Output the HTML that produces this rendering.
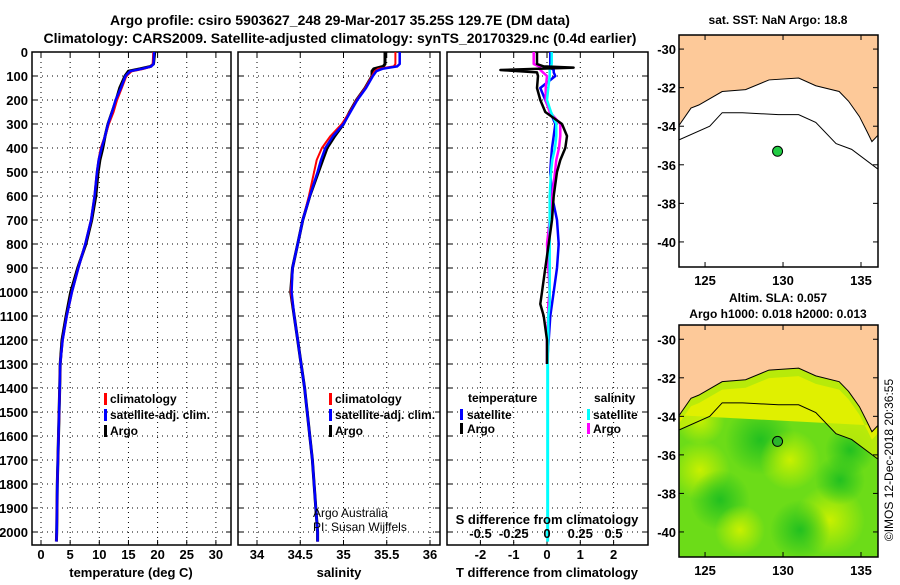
<!DOCTYPE html>
<html><head><meta charset="utf-8"><style>
body{margin:0;background:#fff;}
svg{font-family:"Liberation Sans",sans-serif;font-weight:bold;}
</style></head><body>
<svg id="c" width="900" height="580" xmlns="http://www.w3.org/2000/svg">
<defs>
<clipPath id="cl1"><rect x="32" y="52" width="199" height="493"/></clipPath>
<clipPath id="cl2"><rect x="238" y="52" width="202" height="493"/></clipPath>
<clipPath id="cl3"><rect x="447" y="52" width="201" height="493"/></clipPath>
<clipPath id="m1"><rect x="679" y="35" width="199" height="232"/></clipPath>
<clipPath id="m2"><rect x="679" y="325" width="199" height="232"/></clipPath>
<radialGradient id="gy"><stop offset="0" stop-color="#c8f000"/><stop offset="1" stop-color="#c8f000" stop-opacity="0"/></radialGradient>
<radialGradient id="gd"><stop offset="0" stop-color="#22c020"/><stop offset="1" stop-color="#22c020" stop-opacity="0"/></radialGradient>
</defs>
<text x="340" y="25" text-anchor="middle" font-size="14">Argo profile: csiro 5903627_248 29-Mar-2017 35.25S 129.7E (DM data)</text>
<text x="340" y="43" text-anchor="middle" font-size="14">Climatology: CARS2009. Satellite-adjusted climatology: synTS_20170329.nc (0.4d earlier)</text>
<g id="g"></g>
</svg>
<script>
const depths=[0,50,60,70,80,100,150,200,250,300,350,400,450,500,600,700,800,900,1000,1100,1200,1300,1400,1500,1600,1700,1800,1900,2000,2040];
const tArgo=[19.5,19.3,18.8,17,15,14.4,13.5,12.9,12.2,11.5,11.0,10.6,10.1,9.8,9.4,8.7,7.7,6.3,5.1,4.3,3.6,3.3,3.2,3.1,3.0,2.9,2.8,2.75,2.7,2.65];
const tClim=[19.3,19.2,18.9,17.5,15.5,14.6,13.8,13.0,12.4,11.6,11.0,10.3,9.9,9.6,9.2,8.6,7.6,6.4,5.3,4.4,3.7,3.3,3.2,3.1,3.0,2.9,2.8,2.75,2.7,2.65];
const tSat=[19.4,19.3,18.9,17.3,15.3,14.5,13.7,12.8,12.2,11.5,11.0,10.4,9.9,9.6,9.2,8.6,7.6,6.4,5.3,4.4,3.7,3.3,3.2,3.1,3.0,2.9,2.8,2.75,2.7,2.65];
const sArgo=[35.48,35.48,35.46,35.35,35.33,35.33,35.25,35.15,35.07,35.0,34.9,34.81,34.76,34.71,34.61,34.53,34.47,34.41,34.39,34.43,34.47,34.51,34.55,34.58,34.61,34.64,34.66,34.68,34.7,34.7];
const sClim=[35.6,35.6,35.58,35.4,35.36,35.33,35.25,35.15,35.07,34.98,34.85,34.75,34.69,34.66,34.6,34.53,34.47,34.41,34.39,34.43,34.47,34.51,34.55,34.58,34.61,34.64,34.66,34.68,34.7,34.7];
const sSat=[35.65,35.65,35.62,35.45,35.38,35.34,35.26,35.16,35.08,35.0,34.88,34.79,34.74,34.7,34.61,34.53,34.47,34.41,34.40,34.43,34.47,34.51,34.55,34.58,34.61,34.64,34.66,34.68,34.7,34.7];
const dDepths=[0,50,60,65,75,85,100,150,200,250,300,350,400,450,500,600,700,800,900,1000,1050,1100,1200,1300];
const dtArgo=[-0.3,-0.3,-0.1,0.8,-1.4,-0.3,-0.27,-0.3,-0.2,-0.05,0.45,0.6,0.55,0.4,0.3,0.2,0.15,0.05,-0.05,-0.15,-0.2,-0.1,0,0];
const dtSat=[0.1,0.1,0.1,0.1,0.2,0.2,0.25,-0.2,-0.05,0.1,0.25,0.2,0.15,0.12,0.1,0.15,0.3,0.35,0.3,0.2,0.15,0.1,0.05,0];
const dsArgo=[-0.1,-0.1,-0.06,-0.05,-0.05,-0.03,0,-0.01,-0.01,0.02,0.1,0.1,0.09,0.07,0.06,0.04,0.02,0,0.01,0.02,0.01,0.01,0,0];
const dsSat=[0.035,0.035,0.03,0.03,0.02,0.02,0.02,0.01,0.0,0.03,0.07,0.07,0.06,0.04,0.03,0.02,0.02,0.02,0.02,0.02,0.02,0.01,0.01,0.005];
const depthTicks=[0,100,200,300,400,500,600,700,800,900,1000,1100,1200,1300,1400,1500,1600,1700,1800,1900,2000];
const tTicks=[0,5,10,15,20,25,30];
const sTicks=[34,34.5,35,35.5,36];
const dTicks=[-2,-1,0,1,2];
const dsTickLabels=["-0.5","-0.25","0","0.25","0.5"];
const dsTickVals=[-0.5,-0.25,0,0.25,0.5];
const coastLon=[123.2,123.35,124.1,124.6,126.1,127.6,129.1,131.0,132.1,133.6,134.2,134.9,135.4,135.7,136.05,136.3];
const coastLat=[-33.94,-33.94,-33.06,-32.9,-32.2,-32.1,-31.6,-31.5,-31.9,-32.2,-32.7,-33.5,-34.3,-34.8,-34.5,-34.5];
const contLon=[123.2,123.35,125.3,126.1,127.4,129.7,131.0,132.1,133.4,134.4,136.05,136.3];
const contLat=[-34.7,-34.7,-34.0,-33.3,-33.3,-33.4,-33.4,-33.8,-34.9,-35.2,-36.2,-36.3];
const argoLon=129.65, argoLat=-35.3;

const NS="http://www.w3.org/2000/svg";
const G=document.getElementById('g');
function el(tag,attrs,parent,txt){const e=document.createElementNS(NS,tag);for(const k in attrs)e.setAttribute(k,attrs[k]);if(txt!==undefined)e.textContent=txt;(parent||G).appendChild(e);return e;}
const yD=d=>52+d*0.24;
const xT=v=>41+v*5.83;
const xS=v=>257+(v-34)*86.5;
const xDT=v=>547+v*33.3;
const xDS=v=>547+v*133;

function frame(x0,x1,name){
  const r=el('rect',{x:x0,y:52,width:x1-x0,height:493,fill:'none',stroke:'#000','stroke-width':1.5});
  
  
  depthTicks.forEach(d=>{
    const y=yD(d);
    const l=el('line',{x1:x0,x2:x1,y1:y,y2:y,stroke:'#000','stroke-dasharray':'1,4','stroke-width':1});
    
    
    el('line',{x1:x0,x2:x0+5,y1:y,y2:y,stroke:'#000'});
    el('line',{x1:x1-5,x2:x1,y1:y,y2:y,stroke:'#000'});
  });
}
function vgrid(ticks,fx,x0,x1,labels,ly,name){
  ticks.forEach((v,i)=>{
    const x=fx(v);
    const l=el('line',{x1:x,x2:x,y1:52,y2:545,stroke:'#000','stroke-dasharray':'1,4'});
    
    
    el('line',{x1:x,x2:x,y1:540,y2:545,stroke:'#000'});
    el('line',{x1:x,x2:x,y1:52,y2:57,stroke:'#000'});
    if(labels){const t=el('text',{x:x,y:ly,'text-anchor':'middle','font-size':13},G,labels[i]);
      
      }
  });
}
function line(xs,ys,fx,color,clip,name,w){
  let p='';xs.forEach((v,i)=>{p+=(i?'L':'M')+fx(v).toFixed(1)+','+yD(ys[i]).toFixed(1);});
  const e=el('path',{d:p,fill:'none',stroke:color,'stroke-width':w||3,'clip-path':'url(#'+clip+')','stroke-linejoin':'round'});
  
  
}
// panel 1
frame(32,231,'temperature-panel');
vgrid(tTicks,xT,32,231,tTicks.map(String),559,'temperature-x');
depthTicks.forEach(d=>{const t=el('text',{x:28,y:yD(d)+5,'text-anchor':'end','font-size':13},G,String(d));
  
  });
line(tArgo,depths,xT,'#000','cl1','temp-argo-line');
line(tClim,depths,xT,'#f00','cl1','temp-climatology-line',2.5);
line(tSat,depths,xT,'#00f','cl1','temp-satellite-line',2.5);
let t=el('text',{x:131,y:577,'text-anchor':'middle','font-size':13},G,'temperature (deg C)');

// panel 2
frame(238,440,'salinity-panel');
vgrid(sTicks,xS,238,440,sTicks.map(String),559,'salinity-x');
line(sArgo,depths,xS,'#000','cl2','sal-argo-line');
line(sClim,depths,xS,'#f00','cl2','sal-climatology-line',2);
line(sSat,depths,xS,'#00f','cl2','sal-satellite-line',2.5);
t=el('text',{x:339,y:577,'text-anchor':'middle','font-size':13},G,'salinity');

t=el('text',{x:313,y:517,'font-size':12,'font-weight':'normal'},G,'Argo Australia');

t=el('text',{x:313,y:531,'font-size':12,'font-weight':'normal'},G,'PI: Susan Wijffels');

// legends
function legend(x,items,name){
  items.forEach((it,i)=>{
    const y=398+i*16;
    el('rect',{x:x,y:y-5,width:3,height:12,fill:it[1]});
    const tt=el('text',{x:x+6,y:y+5,'font-size':12},G,it[0]);
    
    
  });
}
legend(104,[['climatology','#f00'],['satellite-adj. clim.','#00f'],['Argo','#000']],'temperature-legend');
legend(329,[['climatology','#f00'],['satellite-adj. clim.','#00f'],['Argo','#000']],'salinity-legend');
// panel 3
frame(447,648,'difference-panel');
vgrid(dTicks,xDT,447,648,dTicks.map(String),559,'tdiff-x');
line(dtSat,dDepths,xDT,'#00f','cl3','tdiff-satellite-line',2.5);
line(dsArgo,dDepths,xDS,'#f0f','cl3','sdiff-argo-line',2.5);
line(dsSat,dDepths,xDS,'#0ff','cl3','sdiff-satellite-line',2.5);
el('line',{x1:xDS(0.005),x2:xDS(0.005),y1:yD(1300),y2:yD(2040),stroke:'#0ff','stroke-width':3,'clip-path':'url(#cl3)'});
line(dtArgo,dDepths,xDT,'#000','cl3','tdiff-argo-line',2.5);
t=el('text',{x:547,y:524,'text-anchor':'middle','font-size':13},G,'S difference from climatology');

dsTickVals.forEach((v,i)=>{const tt=el('text',{x:xDS(v),y:538,'text-anchor':'middle','font-size':13},G,dsTickLabels[i]);
  });
t=el('text',{x:547,y:577,'text-anchor':'middle','font-size':13},G,'T difference from climatology');

t=el('text',{x:468,y:402,'font-size':12},G,'temperature');
t=el('text',{x:594,y:402,'font-size':12},G,'salinity');
[['satellite','#00f',460,'tdiff-legend-satellite'],['Argo','#000',460,'tdiff-legend-argo']].forEach((a,i)=>{
  el('rect',{x:a[2],y:409+i*14,width:3,height:11,fill:a[1]});
  const tt=el('text',{x:a[2]+7,y:419+i*14,'font-size':12},G,a[0]);});
[['satellite','#0ff','sdiff-legend-satellite'],['Argo','#f0f','sdiff-legend-argo']].forEach((a,i)=>{
  el('rect',{x:587,y:409+i*14,width:3,height:11,fill:a[1]});
  const tt=el('text',{x:593,y:419+i*14,'font-size':12},G,a[0]);});
// maps
function map(top,bot,latTop,latBot,clip,name,green){
  const L0=123.33,L1=136.09;
  const fx=lo=>679+(lo-L0)/(L1-L0)*199;
  const fy=la=>top+(latTop-la)/(latTop-latBot)*(bot-top);
  const g=el('g',{'clip-path':'url(#'+clip+')'});
  
  
  el('rect',{x:679,y:top,width:199,height:bot-top,fill:green?'#6cdc18':'#fff'},g);
  if(green){
    [[700,470,30,'gy'],[760,440,35,'gd'],[790,460,30,'gy'],[720,500,30,'gd'],[830,520,35,'gy'],[850,450,25,'gd'],[700,420,25,'gy'],[800,530,30,'gd'],[740,530,25,'gy'],[840,480,25,'gd']].forEach(b=>
      el('circle',{cx:b[0],cy:b[1],r:b[2],fill:'url(#'+b[3]+')'},g));
    let p='M'+fx(coastLon[0])+','+fy(coastLat[0]);
    coastLon.forEach((lo,i)=>p+='L'+fx(lo)+','+fy(coastLat[i]));
    for(let j=contLon.length-1;j>=0;j--)p+='L'+fx(contLon[j])+','+fy(contLat[j]);
    el('path',{d:p+'Z',fill:'#c4ec08',opacity:0.85},g);
    let q='M'+fx(coastLon[0])+','+fy(coastLat[0]);
    coastLon.forEach((lo,i)=>q+='L'+fx(lo)+','+(fy(coastLat[i])+8));
    q+='L'+fx(136.3)+','+fy(-34.5)+'L'+fx(123.2)+','+fy(-33.94)+'Z';
    el('path',{d:q,fill:'#e0f000'},g);
  }
  let p='M679,'+top;
  coastLon.forEach((lo,i)=>p+='L'+fx(lo)+','+fy(coastLat[i]));
  p+='L878,'+top+'Z';
  el('path',{d:p,fill:'#fdc999',stroke:'#000','stroke-width':1},g);
  let c='';contLon.forEach((lo,i)=>c+=(i?'L':'M')+fx(lo)+','+fy(contLat[i]));
  el('path',{d:c,fill:'none',stroke:'#000','stroke-width':1},g);
  const dot=el('circle',{cx:fx(argoLon),cy:fy(argoLat),r:5,fill:green?'#2bb52b':'#22cc44',stroke:'#000'});
  
  
  el('rect',{x:679,y:top,width:199,height:bot-top,fill:'none',stroke:'#000','stroke-width':1.5});
  [-30,-32,-34,-36,-38,-40].forEach(la=>{
    const y=fy(la);el('line',{x1:679,x2:684,y1:y,y2:y,stroke:'#000'});el('line',{x1:873,x2:878,y1:y,y2:y,stroke:'#000'});
    const tt=el('text',{x:676,y:y+5,'text-anchor':'end','font-size':13},G,String(la));
    
  });
  [125,130,135].forEach(lo=>{
    const x=fx(lo);el('line',{x1:x,x2:x,y1:bot-5,y2:bot,stroke:'#000'});el('line',{x1:x,x2:x,y1:top,y2:top+5,stroke:'#000'});
    const tt=el('text',{x:x,y:bot+18,'text-anchor':'middle','font-size':13},G,String(lo));
    
  });
}
map(35,267,-29.27,-41.3,'m1','sst-map',false);
map(325,557,-29.26,-41.3,'m2','sla-map',true);
t=el('text',{x:778,y:24,'text-anchor':'middle','font-size':12},G,'sat. SST: NaN Argo: 18.8');
t=el('text',{x:778,y:302,'text-anchor':'middle','font-size':12},G,'Altim. SLA: 0.057');
t=el('text',{x:778,y:318,'text-anchor':'middle','font-size':12},G,'Argo h1000: 0.018 h2000: 0.013');
t=el('text',{x:0,y:0,'text-anchor':'middle','font-size':12,'font-weight':'normal',transform:'translate(893,460) rotate(-90)'},G,'©IMOS 12-Dec-2018 20:36:55');

</script>
</body></html>
